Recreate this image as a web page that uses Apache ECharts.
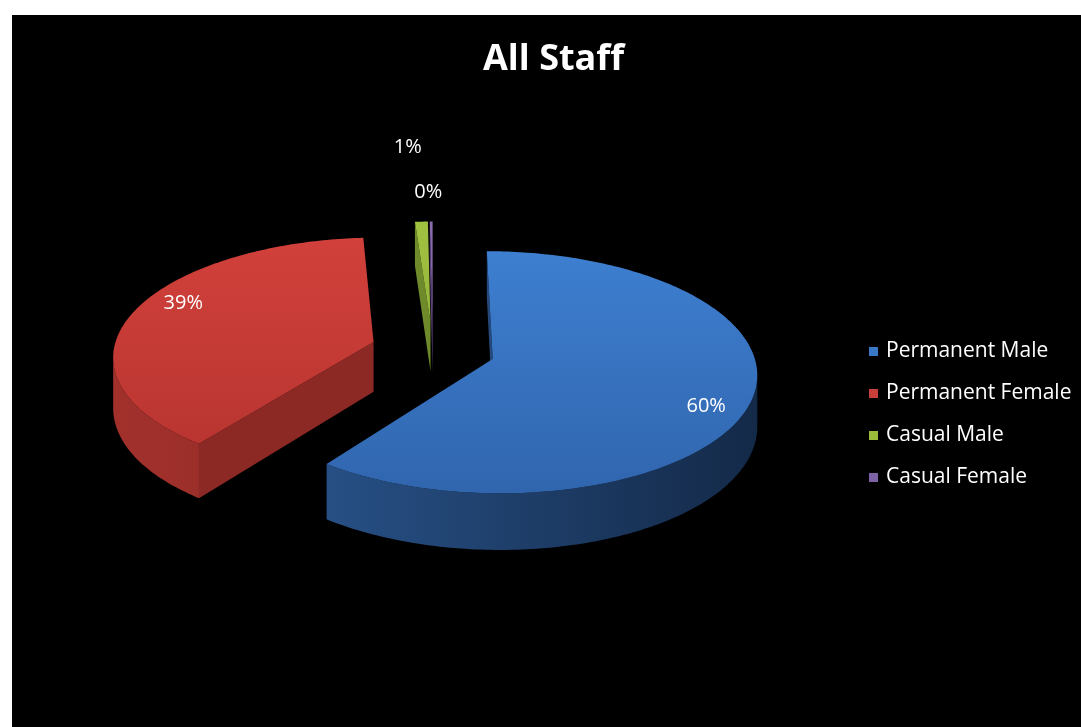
<!DOCTYPE html>
<html><head><meta charset="utf-8">
<script src="https://cdn.jsdelivr.net/npm/echarts@6/dist/echarts.min.js"></script>
<style>
html,body{margin:0;padding:0;background:#fff;width:1081px;height:727px;overflow:hidden}
#chart{position:absolute;left:12px;top:15px;width:1069px;height:712px;background:#000}
</style>
</head><body><div id="chart"></div>
<script>
// ---- data ----
const titleText = 'All Staff';
const categories = ['Permanent Male', 'Permanent Female', 'Casual Male', 'Casual Female'];
const values = [60.2, 38.7, 0.9, 0.2];

// ---- styles ----
const topColors = [['#4083d6', '#3065ad'], ['#d5423c', '#b3322e'], ['#a2c242', '#86a532'], ['#8a6cb0', '#6f5294']];
const wallColors = [['#3164a5', '#132846'], ['#a3312c', '#78221f'], ['#7d9a2f', '#5c7322'], ['#65498a', '#4a3566']];
const cutColors = ['#24497a', '#8d2925', '#6f8a2a', '#5a417c'];
const legendColors = ['#3a78c8', '#c9403b', '#9bbb3c', '#7e62a6'];
const geo = { cx: 421, cy: 335, R: 260, Ry: 117.6, k: 0.109, H: 50, explode: 0.24 };
const labelCfg = [{ r: 0.86, da: 8 }, { r: 0.85, da: 8 }, { r: 1.88, da: -1 }, { r: 1.33, da: -0.5 }];
const FONT = "'Open Sans', 'Liberation Sans', sans-serif";

const total = values.reduce((a, b) => a + b, 0);

function P(u, v, h) {
  const s = 1 / (1 + geo.k * v);
  return [geo.cx + geo.R * u * s, geo.cy + (-geo.Ry * v + geo.H * h) * s];
}
function area(pts) {
  let s = 0;
  for (let i = 0; i < pts.length; i++) {
    const a = pts[i], b = pts[(i + 1) % pts.length];
    s += a[0] * b[1] - b[0] * a[1];
  }
  return s / 2;
}
function midV(i) {
  let start = 0;
  for (let j = 0; j < i; j++) start += values[j];
  const m = (start + values[i] / 2) / total * 2 * Math.PI;
  return Math.cos(m);
}
// painter order: far slices first
const order = categories.map((_, i) => i).sort((a, b) => midV(b) - midV(a));
const rank = {};
order.forEach((idx, r) => { rank[idx] = r; });

function buildSlice(i, val) {
  let start = 0;
  for (let j = 0; j < i; j++) start += values[j];
  const a1 = start / total * 2 * Math.PI;
  const a2 = (start + val) / total * 2 * Math.PI;
  const m = (a1 + a2) / 2;
  const ox = geo.explode * Math.sin(m), oy = geo.explode * Math.cos(m);
  const steps = Math.max(2, Math.ceil((a2 - a1) / (Math.PI / 180)));
  const angs = [];
  for (let s = 0; s <= steps; s++) angs.push(a1 + (a2 - a1) * s / steps);
  const topPts = angs.map(t => P(ox + Math.sin(t), oy + Math.cos(t), 0));
  const botPts = angs.map(t => P(ox + Math.sin(t), oy + Math.cos(t), 1));
  const apexT = P(ox, oy, 0), apexB = P(ox, oy, 1);
  const base = rank[i] * 10;
  const children = [];
  const wallGrad = new echarts.graphic.LinearGradient(geo.cx - geo.R - 80, 0, geo.cx + geo.R + 80, 0,
    [{ offset: 0, color: wallColors[i][0] }, { offset: 1, color: wallColors[i][1] }], true);
  // outer wall visible runs
  let run = null;
  const runs = [];
  for (let s = 0; s < steps; s++) {
    const quad = [topPts[s], topPts[s + 1], botPts[s + 1], botPts[s]];
    if (area(quad) < 0) {
      if (!run) run = { from: s, to: s + 1 }; else run.to = s + 1;
    } else if (run) { runs.push(run); run = null; }
  }
  if (run) runs.push(run);
  runs.forEach(r => {
    const pts = [];
    for (let s = r.from; s <= r.to; s++) pts.push(topPts[s]);
    for (let s = r.to; s >= r.from; s--) pts.push(botPts[s]);
    children.push({ type: 'polygon', shape: { points: pts }, style: { fill: wallGrad }, z2: base + 2 });
  });
  const faceA = [apexT, topPts[0], botPts[0], apexB];
  if (area(faceA) < 0) children.push({ type: 'polygon', shape: { points: faceA }, style: { fill: cutColors[i] }, z2: base + 1 });
  const faceB = [apexT, apexB, botPts[steps], topPts[steps]];
  if (area(faceB) < 0) children.push({ type: 'polygon', shape: { points: faceB }, style: { fill: cutColors[i] }, z2: base + 1 });
  const topGrad = new echarts.graphic.LinearGradient(0, geo.cy - 140, 0, geo.cy + 150,
    [{ offset: 0, color: topColors[i][0] }, { offset: 1, color: topColors[i][1] }], true);
  children.push({ type: 'polygon', shape: { points: [apexT].concat(topPts) }, style: { fill: topGrad }, z2: base + 5 });
  // label
  const la = m + labelCfg[i].da * Math.PI / 180;
  const lp = P(ox + labelCfg[i].r * Math.sin(la), oy + labelCfg[i].r * Math.cos(la), 0);
  children.push({
    type: 'text', x: lp[0], y: lp[1], z2: 1000,
    style: { text: Math.round(val / total * 100) + '%', fill: '#ffffff', fontSize: 20, fontFamily: FONT, align: 'center', verticalAlign: 'middle' }
  });
  return { type: 'group', children };
}

const chart = echarts.init(document.getElementById('chart'), null, { renderer: 'canvas' });
chart.setOption({
  backgroundColor: '#000',
  animation: false,
  title: {
    text: titleText, left: 466, top: 22,
    textStyle: { color: '#ffffff', fontSize: 36, fontWeight: 'bold', fontFamily: FONT }
  },
  legend: {
    orient: 'vertical', left: 852, top: 321, itemWidth: 9, itemHeight: 9, itemGap: 21, icon: 'rect',
    data: categories,
    textStyle: { color: '#ffffff', fontSize: 21, fontFamily: FONT, lineHeight: 21, padding: [0, 0, 0, 3] }
  },
  series: categories.map((name, i) => ({
    type: 'custom', name, coordinateSystem: 'none', silent: true,
    itemStyle: { color: legendColors[i] },
    data: [[values[i]]],
    renderItem: (params, api) => buildSlice(i, api.value(0))
  }))
});
</script></body></html>
